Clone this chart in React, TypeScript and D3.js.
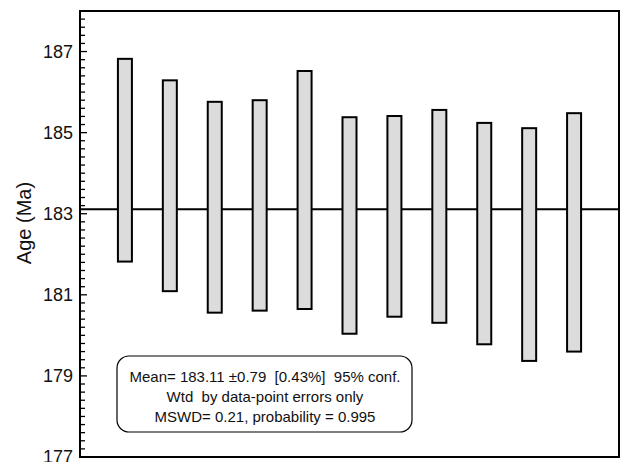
import React from "react";
import * as d3 from "d3";

const sampleIndex = [1, 2, 3, 4, 5, 6, 7, 8, 9, 10, 11];
const upperAge = [186.82, 186.29, 185.76, 185.8, 186.52, 185.38, 185.41, 185.56, 185.24, 185.11, 185.48];
const lowerAge = [181.82, 181.09, 180.56, 180.61, 180.65, 180.04, 180.46, 180.31, 179.78, 179.37, 179.6];
const meanAge = 183.11;
const yTickValues = [177, 179, 181, 183, 185, 187];
const infoLines = [
  "Mean= 183.11 \u00B10.79  [0.43%]  95% conf.",
  "Wtd  by data-point errors only",
  "MSWD= 0.21, probability = 0.995",
];

const W = 621;
const H = 462;
const left = 80;
const right = 619;
const top = 11;
const bottom = 457;

export default function App() {
  const x = d3.scaleLinear().domain([0, 12]).range([left, right]);
  const y = d3.scaleLinear().domain([177, 188]).range([bottom, top]);
  const minorTicks = d3.range(177, 188.001, 0.2).map((v) => Math.round(v * 10) / 10);
  const barW = 14;
  const font = "'Liberation Sans', Arial, Helvetica, sans-serif";

  return (
    <svg width={W} height={H} style={{ position: "absolute", left: 0, top: 0 }}>
      <rect x={0} y={0} width={W} height={H} fill="#fff" />
      <line x1={left} x2={right} y1={y(meanAge)} y2={y(meanAge)} stroke="#000" strokeWidth={2} />
      {sampleIndex.map((s, i) => (
        <rect
          key={s}
          x={x(s) - barW / 2}
          y={y(upperAge[i])}
          width={barW}
          height={y(lowerAge[i]) - y(upperAge[i])}
          fill="#dcdcdc"
          stroke="#000"
          strokeWidth={2}
        />
      ))}
      {minorTicks.map((v) => {
        const major = yTickValues.includes(v);
        return (
          <line
            key={v}
            x1={left}
            x2={left + (major ? 7 : 5)}
            y1={y(v)}
            y2={y(v)}
            stroke="#000"
            strokeWidth={1.3}
          />
        );
      })}
      <rect x={left} y={top} width={right - left} height={bottom - top} fill="none" stroke="#000" strokeWidth={2} />
      {yTickValues.map((v) => (
        <text key={v} x={73} y={y(v)} dy="0.36em" textAnchor="end" fontFamily={font} fontSize={18} fill="#111">
          {v}
        </text>
      ))}
      <text
        transform={`translate(31, 223) rotate(-90)`}
        textAnchor="middle"
        fontFamily={font}
        fontSize={20}
        fill="#111"
      >
        Age (Ma)
      </text>
      <rect x={117} y={356} width={295} height={76} rx={12} ry={12} fill="#fff" stroke="#000" strokeWidth={1.2} />
      {infoLines.map((t, i) => (
        <text
          key={i}
          x={265}
          y={382 + i * 20}
          textAnchor="middle"
          fontFamily={font}
          fontSize={15}
          fill="#111"
          style={{ whiteSpace: "pre" }}
        >
          {t}
        </text>
      ))}
    </svg>
  );
}
